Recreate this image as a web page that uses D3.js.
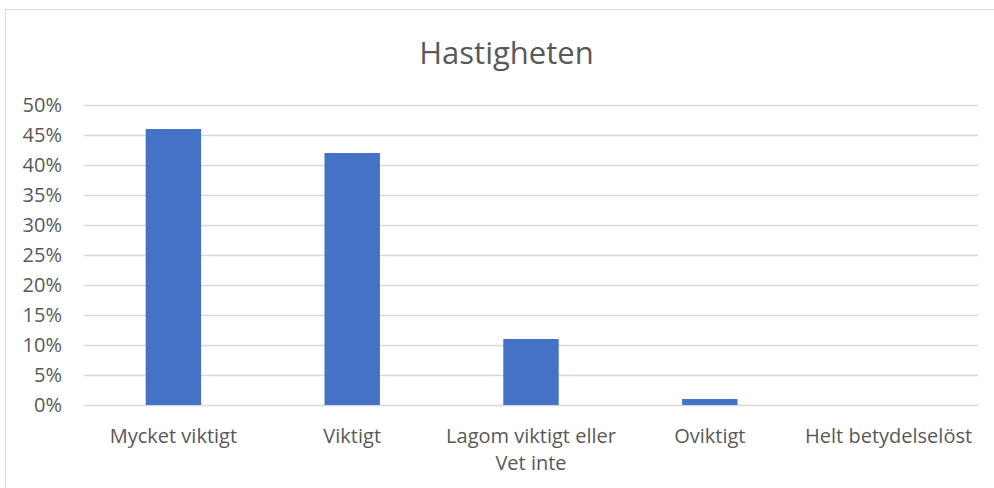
<!DOCTYPE html>
<html>
<head>
<meta charset="utf-8">
<script src="https://cdn.jsdelivr.net/npm/d3@7"></script>
<style>
  html, body { margin: 0; padding: 0; background: #fff; }
  svg { display: block; font-family: "Open Sans", sans-serif; }
</style>
</head>
<body>
<svg id="chart" width="994" height="488"></svg>
<script>
const title = "Hastigheten";
const categories = ["Mycket viktigt", "Viktigt", "Lagom viktigt eller Vet inte", "Oviktigt", "Helt betydelselöst"];
const categoryLines = [["Mycket viktigt"], ["Viktigt"], ["Lagom viktigt eller", "Vet inte"], ["Oviktigt"], ["Helt betydelselöst"]];
const values = [0.46, 0.42, 0.11, 0.01, 0.0];
const yTicks = [0, 0.05, 0.10, 0.15, 0.20, 0.25, 0.30, 0.35, 0.40, 0.45, 0.50];

const svg = d3.select("#chart");
const W = 994, H = 488;
const plot = { left: 84, right: 978, top: 105, bottom: 405 };
const textColor = "#595959";

// chart border
svg.append("rect")
  .attr("x", 5.5).attr("y", 9.5)
  .attr("width", W + 10).attr("height", H + 10)
  .attr("fill", "#fff").attr("stroke", "#d9d9d9").attr("stroke-width", 1);

const x = d3.scaleBand().domain(categories).range([plot.left, plot.right]).paddingInner(0.69).paddingOuter(0.345);
const y = d3.scaleLinear().domain([0, 0.5]).range([plot.bottom, plot.top]);

// gridlines
svg.append("g").selectAll("line").data(yTicks).join("line")
  .attr("x1", plot.left).attr("x2", plot.right)
  .attr("y1", d => Math.round(y(d)) + 0.5).attr("y2", d => Math.round(y(d)) + 0.5)
  .attr("stroke", "#d9d9d9").attr("stroke-width", 1.3);

// y axis labels
const yAxis = d3.axisLeft(y).tickValues(yTicks).tickFormat(d3.format(".0%")).tickSize(0).tickPadding(0);
const gy = svg.append("g").attr("transform", `translate(62,0)`).call(yAxis);
gy.select(".domain").remove();
gy.selectAll("text").attr("fill", textColor).style("font-size", "20px").style("font-family", "'Open Sans', sans-serif");

// bars
svg.append("g").selectAll("rect").data(values).join("rect")
  .attr("x", (d, i) => x(categories[i]))
  .attr("width", x.bandwidth())
  .attr("y", d => y(d))
  .attr("height", d => y(0) - y(d))
  .attr("fill", "#4472C4");

// x category labels
const xl = svg.append("g");
categoryLines.forEach((lines, i) => {
  const cx = x(categories[i]) + x.bandwidth() / 2;
  lines.forEach((t, j) => {
    xl.append("text")
      .attr("x", cx).attr("y", 443 + j * 27)
      .attr("text-anchor", "middle")
      .attr("fill", textColor)
      .style("font-size", "20px")
      .text(t);
  });
});

// title
svg.append("text")
  .attr("x", 506.5).attr("y", 64)
  .attr("text-anchor", "middle")
  .attr("fill", textColor)
  .style("font-size", "31px")
  .text(title);
</script>
</body>
</html>
